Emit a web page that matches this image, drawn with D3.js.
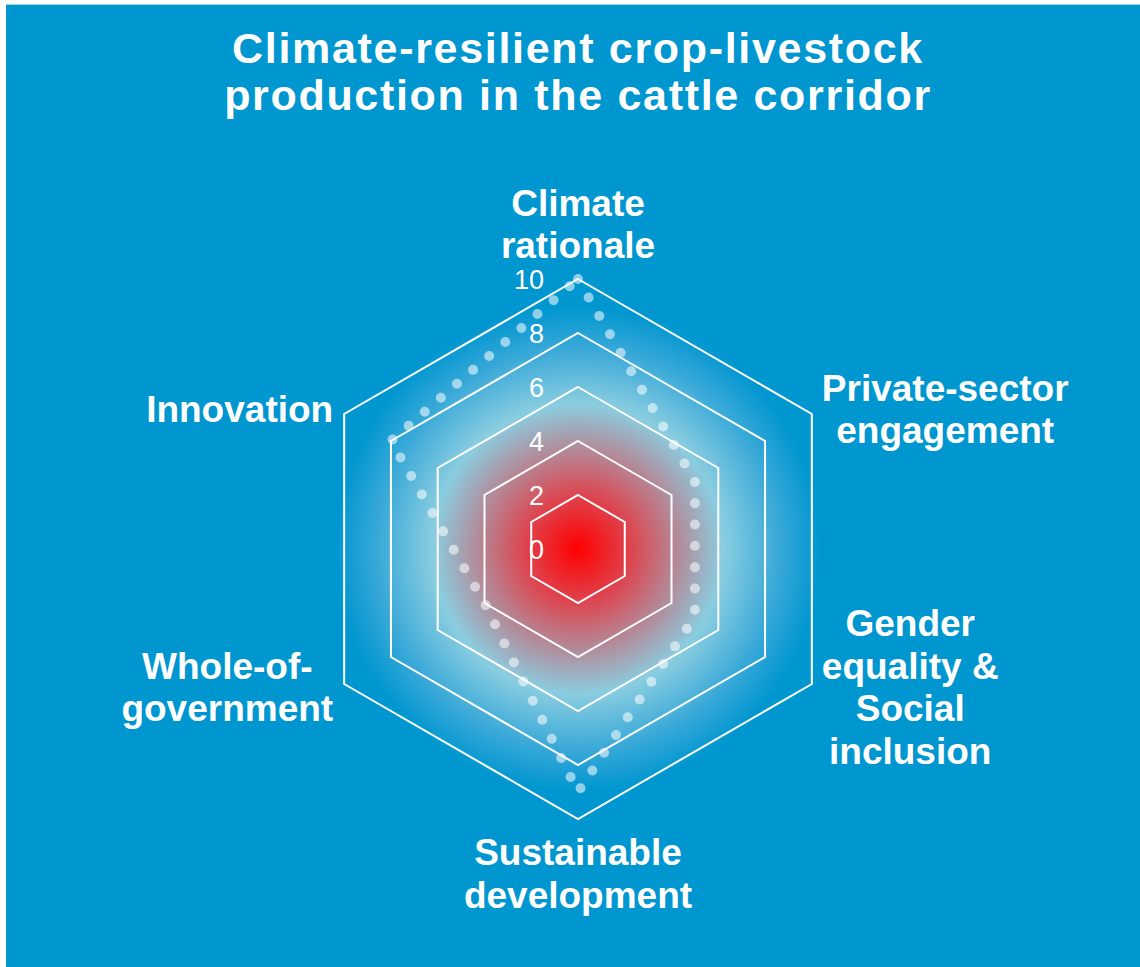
<!DOCTYPE html>
<html>
<head>
<meta charset="utf-8">
<script src="https://cdn.jsdelivr.net/npm/d3@7"></script>
<style>
  html, body { margin: 0; padding: 0; background: #ffffff; }
  svg { display: block; }
</style>
</head>
<body>
<svg id="chart" width="1140" height="967"></svg>
<script>
// ---- data ----
const titleLines = ["Climate-resilient crop-livestock", "production in the cattle corridor"];
const categories = [
  "Climate\nrationale",
  "Private-sector\nengagement",
  "Gender\nequality &\nSocial\ninclusion",
  "Sustainable\ndevelopment",
  "Whole-of-\ngovernment",
  "Innovation"
];
const values = [10, 5, 5, 9, 4, 8];
const tickValues = [0, 2, 4, 6, 8, 10];

// ---- layout ----
const W = 1140, H = 967;
const cx = 578, cy = 549, R = 270;
const bg = "#0096d0";
const font = "'Liberation Sans', Arial, Helvetica, sans-serif";

const svg = d3.select("#chart");
svg.append("rect").attr("x", 6).attr("y", 5).attr("width", W - 6).attr("height", H - 5).attr("fill", bg);
svg.append("line").attr("x1", 6).attr("x2", W).attr("y1", 4.5).attr("y2", 4.5)
  .attr("stroke", "#9fd3ea").attr("stroke-width", 1);

const defs = svg.append("defs");
const grad = defs.append("radialGradient").attr("id", "glow")
  .attr("gradientUnits", "userSpaceOnUse")
  .attr("cx", cx).attr("cy", cy).attr("r", 250);
[[0, "#ff0000"], [0.2, "#e0404a"], [0.58, "#8acde0"], [0.8, "#3aa9d8"], [0.97, bg], [1, bg]]
  .forEach(([o, c]) => grad.append("stop").attr("offset", o).attr("stop-color", c));

svg.append("circle").attr("cx", cx).attr("cy", cy).attr("r", 252).attr("fill", "url(#glow)");

// title
const title = svg.append("g");
titleLines.forEach((t, i) => {
  title.append("text")
    .attr("x", 578).attr("y", 63 + i * 47)
    .attr("text-anchor", "middle")
    .attr("font-family", font).attr("font-weight", "bold").attr("font-size", 43)
    .attr("fill", "#ffffff")
    .text(t);
});
// stretch title lines to the reference widths via letter-spacing
const titleWidths = [690, 706];
title.selectAll("text").each(function(d, i) {
  const n = this.getNumberOfChars();
  const w = this.getComputedTextLength();
  const ls = (titleWidths[i] - w) / (n - 1);
  d3.select(this).attr("letter-spacing", ls.toFixed(2));
});

// scales
const r = d3.scaleLinear().domain([0, 10]).range([0, R]);
const angle = d3.scaleLinear().domain([0, categories.length]).range([0, 2 * Math.PI]);

const g = svg.append("g").attr("transform", `translate(${cx},${cy})`);

// grid hexagons
const radial = d3.lineRadial().curve(d3.curveLinearClosed);
tickValues.filter(t => t > 0).forEach(t => {
  g.append("path")
    .attr("d", radial(categories.map((c, i) => [angle(i), r(t)])))
    .attr("fill", "none").attr("stroke", "#ffffff").attr("stroke-width", 2);
});

// tick labels
g.selectAll("text.tick").data(tickValues).join("text")
  .attr("class", "tick")
  .attr("x", -34).attr("y", d => -r(d))
  .attr("dy", "0.36em")
  .attr("text-anchor", "end")
  .attr("font-family", font).attr("font-size", 27)
  .attr("fill", "#ffffff")
  .text(d => d);

// series (dotted)
g.append("path")
  .attr("d", radial(values.map((v, i) => [angle(i), r(v)])))
  .attr("fill", "none")
  .attr("stroke", "#ffffff").attr("stroke-opacity", 0.55)
  .attr("stroke-width", 10)
  .attr("stroke-linecap", "round")
  .attr("stroke-dasharray", "0 21.3");

// category labels
const lh = 42.5;
const fs = 37;
categories.forEach((c, i) => {
  const lines = c.split("\n");
  const a = angle(i);
  const vx = Math.sin(a) * r(10), vy = -Math.cos(a) * r(10);
  const lab = g.append("text")
    .attr("font-family", font).attr("font-weight", "bold").attr("font-size", fs)
    .attr("fill", "#ffffff").attr("text-anchor", "middle");
  const tsp = lines.map(l => lab.append("tspan").text(l));
  const widths = tsp.map(t => t.node().getComputedTextLength());
  const bw = d3.max(widths);
  let x, y0;
  const sx = Math.sin(a);
  if (Math.abs(sx) < 0.01) {
    x = vx;
    if (vy < 0) y0 = vy - 21 - (lines.length - 1) * lh;
    else y0 = vy + 46;
  } else {
    x = sx > 0 ? vx + 10 + bw / 2 : vx - 11 - bw / 2;
    y0 = vy - (lines.length - 1) * lh / 2 + 12 - 8 * Math.cos(a);
  }
  tsp.forEach((t, k) => t.attr("x", x).attr("y", y0 + k * lh));
});
</script>
</body>
</html>
